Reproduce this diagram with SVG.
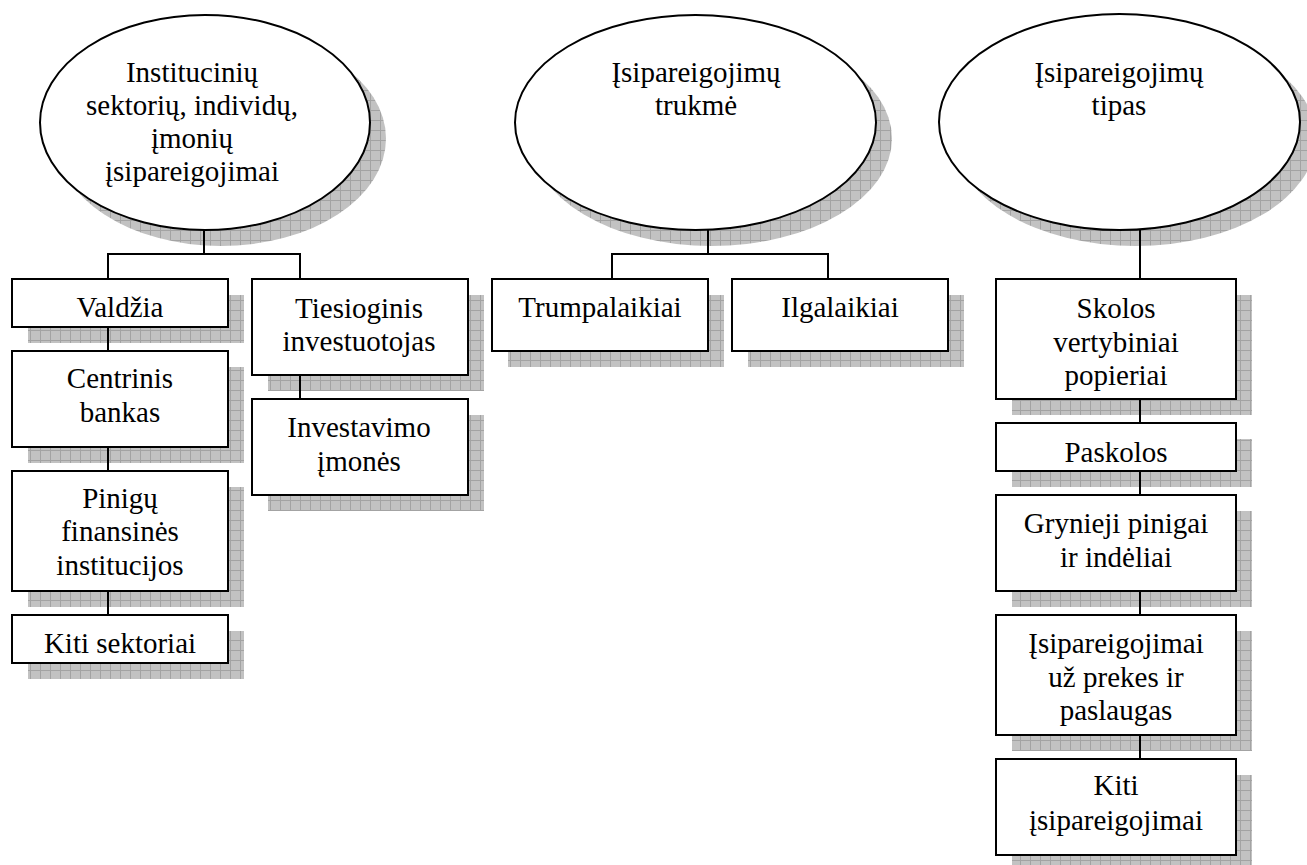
<svg xmlns="http://www.w3.org/2000/svg" width="1307" height="865" viewBox="0 0 1307 865">
<style>
.box{fill:#fff;stroke:#000;stroke-width:2}
.ell{fill:#fff;stroke:#000;stroke-width:2}
.sh{fill:url(#grid)}
.t{font-family:"Liberation Serif","Times New Roman",serif;font-size:29px;fill:#000;text-anchor:middle}
.con{fill:none;stroke:#000;stroke-width:2}
</style>
<defs>
<pattern id="grid" patternUnits="userSpaceOnUse" width="10" height="10">
<rect width="10" height="10" fill="#c2c2c2"/>
<path d="M0 0.5H10M0.5 0V10" stroke="#a3a3a3" stroke-width="1"/>
</pattern>
</defs>
<rect width="1307" height="865" fill="#fff"/>

<g id="node-institucinių">
<ellipse class="sh" cx="221" cy="138.5" rx="165" ry="107.5"/>
<ellipse class="ell" cx="205" cy="122.5" rx="165" ry="107.5"/>
<text class="t" x="192" y="82">Institucinių</text>
<text class="t" x="192" y="115">sektorių, individų,</text>
<text class="t" x="192" y="148">įmonių</text>
<text class="t" x="192" y="181">įsipareigojimai</text>
</g>
<g id="node-trukme">
<ellipse class="sh" cx="711.5" cy="138.5" rx="180.5" ry="107.5"/>
<ellipse class="ell" cx="695.5" cy="122.5" rx="180.5" ry="107.5"/>
<text class="t" x="696" y="82">Įsipareigojimų</text>
<text class="t" x="696" y="115">trukmė</text>
</g>
<g id="node-tipas">
<ellipse class="sh" cx="1135.5" cy="138" rx="180.5" ry="108"/>
<ellipse class="ell" cx="1119.5" cy="122" rx="180.5" ry="108"/>
<text class="t" x="1119" y="82">Įsipareigojimų</text>
<text class="t" x="1119" y="115">tipas</text>
</g>

<g id="node-valdzia">
<rect class="sh" x="28" y="295" width="216" height="48"/>
<rect class="box" x="12" y="279" width="216" height="48"/>
<text class="t" x="120" y="317">Valdžia</text>
</g>
<g id="node-centrinis">
<rect class="sh" x="28" y="367" width="216" height="96"/>
<rect class="box" x="12" y="351" width="216" height="96"/>
<text class="t" x="120" y="388">Centrinis</text>
<text class="t" x="120" y="422">bankas</text>
</g>
<g id="node-pinigu">
<rect class="sh" x="28" y="487" width="216" height="120"/>
<rect class="box" x="12" y="471" width="216" height="120"/>
<text class="t" x="120" y="508">Pinigų</text>
<text class="t" x="120" y="541">finansinės</text>
<text class="t" x="120" y="575">institucijos</text>
</g>
<g id="node-kiti-sektoriai">
<rect class="sh" x="28" y="631" width="216" height="48"/>
<rect class="box" x="12" y="615" width="216" height="48"/>
<text class="t" x="120" y="653">Kiti sektoriai</text>
</g>
<g id="node-tiesioginis">
<rect class="sh" x="268" y="295" width="216" height="96"/>
<rect class="box" x="252" y="279" width="216" height="96"/>
<text class="t" x="359" y="318">Tiesioginis</text>
<text class="t" x="359" y="351">investuotojas</text>
</g>
<g id="node-investavimo">
<rect class="sh" x="268" y="415" width="216" height="96"/>
<rect class="box" x="252" y="399" width="216" height="96"/>
<text class="t" x="359" y="437">Investavimo</text>
<text class="t" x="359" y="471">įmonės</text>
</g>
<g id="node-trumpalaikiai">
<rect class="sh" x="508" y="295" width="216" height="72"/>
<rect class="box" x="492" y="279" width="216" height="72"/>
<text class="t" x="600" y="317">Trumpalaikiai</text>
</g>
<g id="node-ilgalaikiai">
<rect class="sh" x="748" y="295" width="216" height="72"/>
<rect class="box" x="732" y="279" width="216" height="72"/>
<text class="t" x="840" y="317">Ilgalaikiai</text>
</g>
<g id="node-skolos">
<rect class="sh" x="1012" y="295" width="240" height="120"/>
<rect class="box" x="996" y="279" width="240" height="120"/>
<text class="t" x="1116" y="318">Skolos</text>
<text class="t" x="1116" y="352">vertybiniai</text>
<text class="t" x="1116" y="385">popieriai</text>
</g>
<g id="node-paskolos">
<rect class="sh" x="1012" y="439" width="240" height="48"/>
<rect class="box" x="996" y="423" width="240" height="48"/>
<text class="t" x="1116" y="462">Paskolos</text>
</g>
<g id="node-grynieji">
<rect class="sh" x="1012" y="511" width="240" height="96"/>
<rect class="box" x="996" y="495" width="240" height="96"/>
<text class="t" x="1116" y="533">Grynieji pinigai</text>
<text class="t" x="1116" y="567">ir indėliai</text>
</g>
<g id="node-uz-prekes">
<rect class="sh" x="1012" y="631" width="240" height="120"/>
<rect class="box" x="996" y="615" width="240" height="120"/>
<text class="t" x="1116" y="653">Įsipareigojimai</text>
<text class="t" x="1116" y="687">už prekes ir</text>
<text class="t" x="1116" y="720">paslaugas</text>
</g>
<g id="node-kiti-isipareigojimai">
<rect class="sh" x="1012" y="775" width="240" height="96"/>
<rect class="box" x="996" y="759" width="240" height="96"/>
<text class="t" x="1116" y="795">Kiti</text>
<text class="t" x="1116" y="830">įsipareigojimai</text>
</g>

<g id="connectors">
<path class="con" d="M204 230V254M108 279V254H300V279"/>
<path class="con" d="M108 327V351M108 447V471M108 591V615"/>
<path class="con" d="M300 375V399"/>
<path class="con" d="M708 230V254M612 279V254H828V279"/>
<path class="con" d="M1140 230V279M1140 399V423M1140 471V495M1140 591V615M1140 735V759"/>
</g>
</svg>
